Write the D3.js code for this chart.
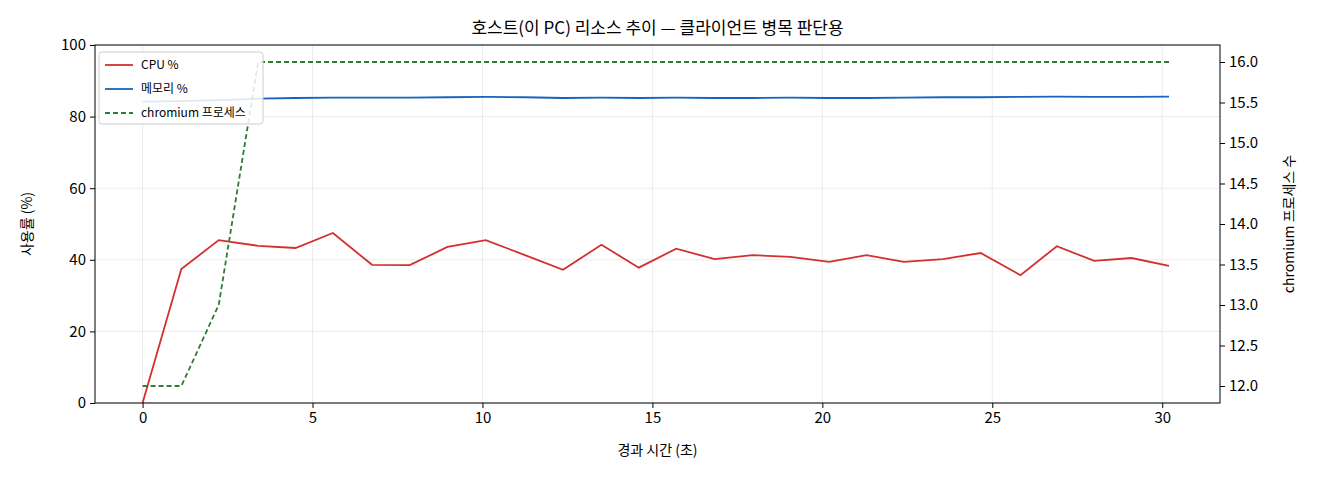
<!DOCTYPE html>
<html><head><meta charset="utf-8">
<script src="https://cdn.jsdelivr.net/npm/d3@7"></script>
<style>body{margin:0;background:#fff;font-family:"Noto Sans CJK KR","DejaVu Sans",sans-serif}</style>
</head><body><svg id="chart" width="1320" height="480"></svg>
<script>
const times = [0,1.14,2.24,3.4,4.5,5.6,6.75,7.86,8.97,10.1,11.25,12.37,13.5,14.6,15.7,16.83,17.95,19.06,20.2,21.3,22.4,23.55,24.66,25.83,26.9,28.0,29.1,30.2];
const cpu = [0,37.4,45.5,43.9,43.3,47.5,38.6,38.5,43.6,45.5,41.3,37.2,44.2,37.8,43.1,40.2,41.3,40.8,39.4,41.3,39.4,40.2,41.9,35.7,43.8,39.7,40.5,38.3];
const mem = [84.2,84.3,84.6,85.0,85.2,85.3,85.3,85.3,85.4,85.5,85.4,85.2,85.3,85.2,85.3,85.2,85.2,85.3,85.2,85.2,85.3,85.4,85.4,85.5,85.6,85.5,85.5,85.6];
const procs = [12,12,13,16,16,16,16,16,16,16,16,16,16,16,16,16,16,16,16,16,16,16,16,16,16,16,16,16];
const xTicks = [0,5,10,15,20,25,30];
const yTicks = [0,20,40,60,80,100];
const y2Ticks = [12,12.5,13,13.5,14,14.5,15,15.5,16];

const svg = d3.select("#chart");
const m = {left:95, right:100, top:45, bottom:77};
const W = 1320, H = 480;
const x = d3.scaleLinear().domain([-1.4,31.7]).range([m.left, W-m.right]);
const y = d3.scaleLinear().domain([0,100]).range([H-m.bottom, m.top]);
const y2 = d3.scaleLinear().domain([11.79,16.21]).range([H-m.bottom, m.top]);

const grid = svg.append("g").attr("stroke","#e6e6e6").attr("stroke-width",0.8);
xTicks.forEach(t=>grid.append("line").attr("x1",x(t)).attr("x2",x(t)).attr("y1",m.top).attr("y2",H-m.bottom));
yTicks.forEach(t=>grid.append("line").attr("y1",y(t)).attr("y2",y(t)).attr("x1",m.left).attr("x2",W-m.right));

const idx = d3.range(times.length);
const line = (arr, sc) => d3.line().x(i=>x(times[i])).y(i=>sc(arr[i]))(idx);
svg.append("path").attr("d",line(cpu,y)).attr("fill","none").attr("stroke","#d32f2f").attr("stroke-width",1.8);
svg.append("path").attr("d",line(mem,y)).attr("fill","none").attr("stroke","#1565c0").attr("stroke-width",1.8);
svg.append("path").attr("d",line(procs,y2)).attr("fill","none").attr("stroke","#2e7d32").attr("stroke-width",1.8).attr("stroke-dasharray","5,3");

svg.append("rect").attr("x",m.left).attr("y",m.top).attr("width",W-m.left-m.right).attr("height",H-m.top-m.bottom).attr("fill","none").attr("stroke","#000").attr("stroke-width",1);

const ax = svg.append("g").attr("transform",`translate(0,${H-m.bottom})`).call(d3.axisBottom(x).tickValues(xTicks).tickSize(5).tickPadding(4));
const ay = svg.append("g").attr("transform",`translate(${m.left},0)`).call(d3.axisLeft(y).tickValues(yTicks).tickSize(5).tickPadding(4));
const ay2 = svg.append("g").attr("transform",`translate(${W-m.right},0)`).call(d3.axisRight(y2).tickValues(y2Ticks).tickFormat(d3.format(".1f")).tickSize(5).tickPadding(4));
[ax,ay,ay2].forEach(g=>{g.select(".domain").remove();g.selectAll("text").attr("font-size",15).attr("fill","#000").attr("font-family","Noto Sans CJK KR");});

svg.append("text").attr("x",(m.left+W-m.right)/2).attr("y",34).attr("text-anchor","middle").attr("font-size",17).text("호스트(이 PC) 리소스 추이 — 클라이언트 병목 판단용");
svg.append("text").attr("x",(m.left+W-m.right)/2).attr("y",455).attr("text-anchor","middle").attr("font-size",14).text("경과 시간 (초)");
svg.append("text").attr("transform",`translate(32,${(m.top+H-m.bottom)/2}) rotate(-90)`).attr("text-anchor","middle").attr("font-size",14).text("사용률 (%)");
svg.append("text").attr("transform",`translate(1294,${(m.top+H-m.bottom)/2}) rotate(-90)`).attr("text-anchor","middle").attr("font-size",14).text("chromium 프로세스 수");

const legend = [["CPU %","#d32f2f",null],["메모리 %","#1565c0",null],["chromium 프로세스","#2e7d32","5,3"]];
const lg = svg.append("g").attr("transform","translate(99,52)");
lg.append("rect").attr("width",164).attr("height",72).attr("rx",3).attr("fill","#fff").attr("fill-opacity",0.85).attr("stroke","#ccc");
legend.forEach((d,i)=>{
  const yy = 13+i*24;
  lg.append("line").attr("x1",6).attr("x2",34).attr("y1",yy).attr("y2",yy).attr("stroke",d[1]).attr("stroke-width",1.8).attr("stroke-dasharray",d[2]);
  lg.append("text").attr("x",42).attr("y",yy+4).attr("font-size",12).text(d[0]);
});
</script></body></html>
